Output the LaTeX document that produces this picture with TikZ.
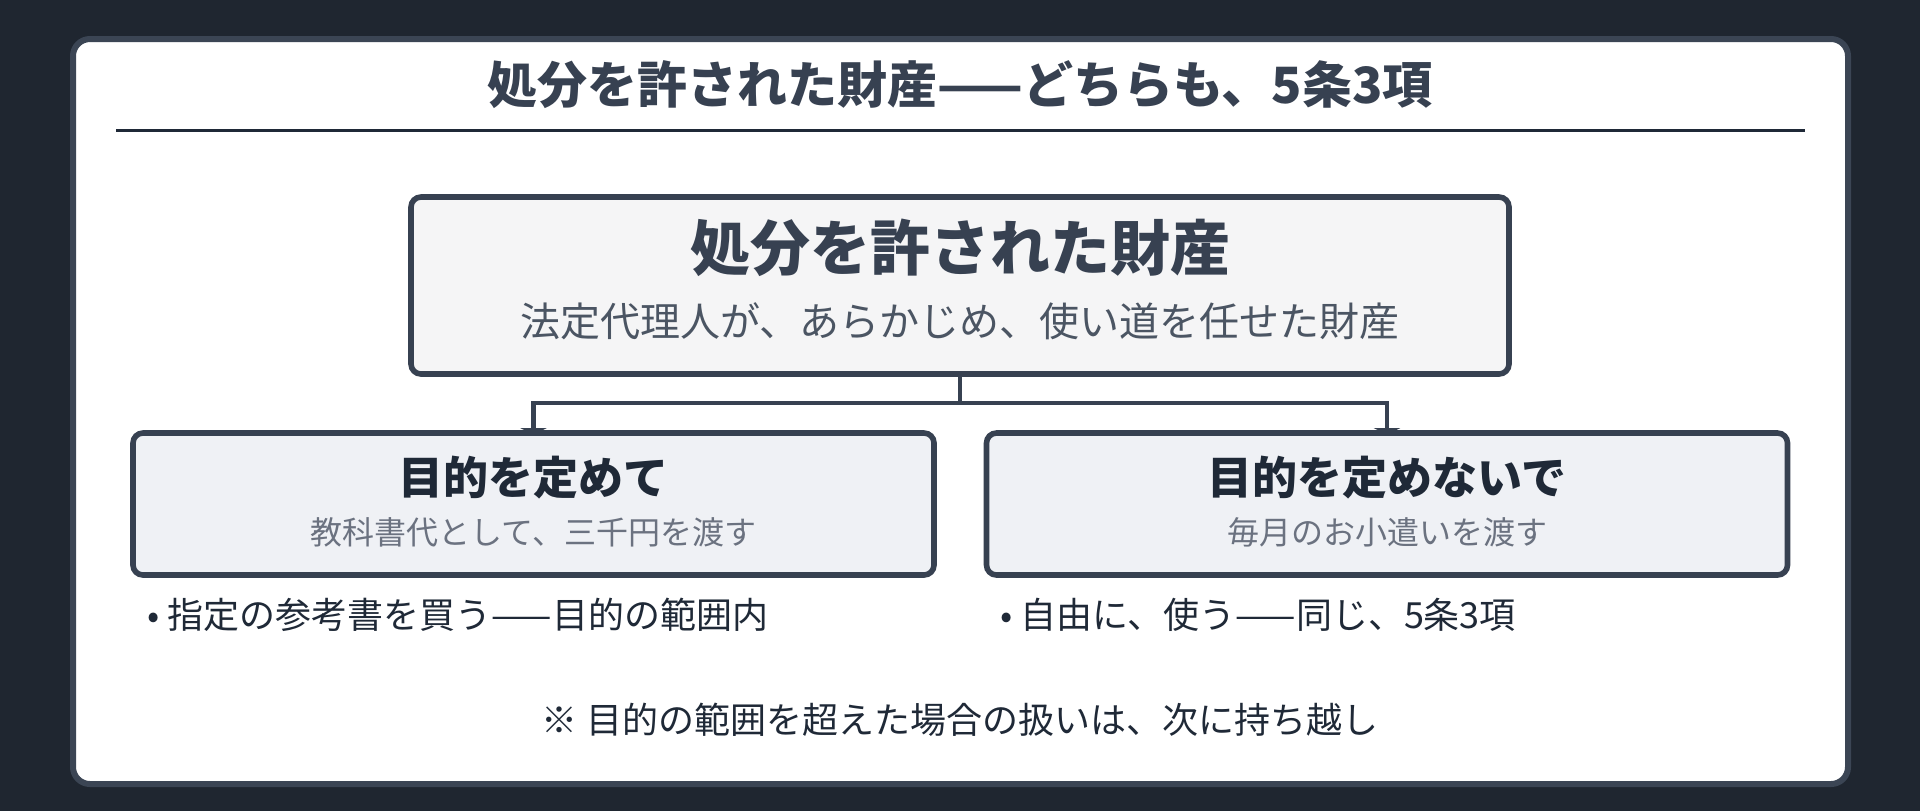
\documentclass[tikz,border=0pt]{standalone}
\usepackage{fontspec}
\setmainfont{Noto Sans CJK JP}
\usetikzlibrary{arrows.meta, positioning}
\definecolor{page_dark}{RGB}{31, 38, 48}
\definecolor{card_edge}{RGB}{59, 69, 84}
\definecolor{slate_ink}{RGB}{55, 65, 81}
\definecolor{deep_ink}{RGB}{31, 41, 55}
\definecolor{mid_gray}{RGB}{75, 85, 99}
\definecolor{soft_gray}{RGB}{107, 114, 128}
\definecolor{top_fill}{RGB}{245, 245, 246}
\definecolor{kid_fill}{RGB}{239, 241, 245}

\begin{document}
\begin{tikzpicture}[
        x=0.5pt, y=-0.5pt,
        card/.style={rectangle, rounded corners=8.5pt, draw=card_edge, line width=3pt,
                     fill=white, minimum width=887.5pt, minimum height=372.5pt, inner sep=0pt},
        rbox/.style={rectangle, rounded corners=5pt, draw=slate_ink, line width=2.8pt,
                     inner sep=0pt},
        lbl/.style={inner sep=0pt},
        arr/.style={-{Triangle[length=3pt, width=13pt]}, line width=2.3pt, slate_ink,
                    shorten >=-2pt},
      ]
        \fill[page_dark] (0,0) rectangle (1920,811);
        \node[card] (card) at (960.5, 411.5) {};

        \node[lbl, font=\fontsize{25pt}{30pt}\selectfont\bfseries, text=slate_ink] (head) at (960, 85)
          {処分を許された財産——どちらも、5条3項};
        \draw[line width=1.5pt, deep_ink] (116, 130) -- (1805, 130);

        \node[rbox, fill=top_fill, minimum width=549pt, minimum height=88.5pt] (top) at (960, 285.5) {};
        \node[lbl, font=\fontsize{30pt}{36pt}\selectfont\bfseries, text=slate_ink] (topmain) at (960, 248)
          {処分を許された財産};
        \node[lbl, font=\fontsize{20pt}{24pt}\selectfont, text=mid_gray] (topsub) at (960, 321)
          {法定代理人が、あらかじめ、使い道を任せた財産};

        \node[rbox, fill=kid_fill, minimum width=400.5pt, minimum height=71pt] (left) at (533.5, 504) {};
        \node[rbox, fill=kid_fill, minimum width=400.5pt, minimum height=71pt] (right) at (1387, 504) {};

        \node[lbl, font=\fontsize{22.5pt}{27pt}\selectfont\bfseries, text=deep_ink] (lefttitle) at (533.5, 478)
          {目的を定めて};
        \node[lbl, font=\fontsize{16pt}{19pt}\selectfont, text=soft_gray] (leftsub) at (533.5, 532)
          {教科書代として、三千円を渡す};
        \node[lbl, font=\fontsize{22.5pt}{27pt}\selectfont\bfseries, text=deep_ink] (righttitle) at (1387, 478)
          {目的を定めないで};
        \node[lbl, font=\fontsize{16pt}{19pt}\selectfont, text=soft_gray] (rightsub) at (1387, 532)
          {毎月のお小遣いを渡す};

        \coordinate (fork) at (960, 403);
        \draw[arr] (top.south) -- (fork) -| (left.north);
        \draw[arr] (fork) -| (right.north);

        \node[lbl, anchor=west, font=\fontsize{18pt}{22pt}\selectfont, text=deep_ink] (leftnote) at (147, 615)
          {• 指定の参考書を買う——目的の範囲内};
        \node[lbl, anchor=west, font=\fontsize{18pt}{22pt}\selectfont, text=deep_ink] (rightnote) at (1000, 615)
          {• 自由に、使う——同じ、5条3項};

        \node[lbl, font=\fontsize{18pt}{22pt}\selectfont, text=deep_ink] (foot) at (960, 720)
          {※ 目的の範囲を超えた場合の扱いは、次に持ち越し};
      \end{tikzpicture}
\end{document}
